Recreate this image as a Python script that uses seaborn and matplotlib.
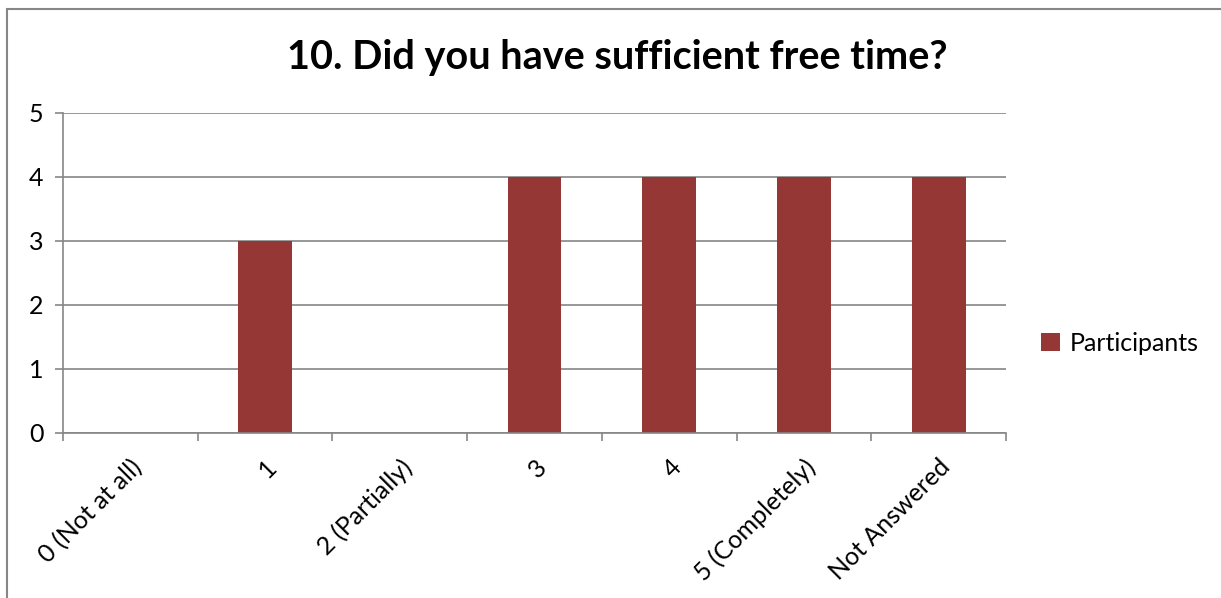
import pandas as pd
import matplotlib.pyplot as plt
import seaborn as sns
from matplotlib.patches import Rectangle

categories = ["0 (Not at all)", "1", "2 (Partially)", "3", "4", "5 (Completely)", "Not Answered"]
participants = [0, 3, 0, 4, 4, 4, 4]
y_ticks = [0, 1, 2, 3, 4, 5]

bar_color = "#953735"
grid_color = "#868686"

df = pd.DataFrame({"answer": categories, "count": participants})

sns.set_style("white")
plt.rcParams["font.family"] = ["Lato", "DejaVu Sans"]
plt.rcParams["text.color"] = "black"
plt.rcParams["xtick.color"] = "black"
plt.rcParams["ytick.color"] = "black"

fig = plt.figure(figsize=(12.21, 5.98), dpi=100)
ax = fig.add_axes([63 / 1221, 1 - 433 / 598, (1006 - 63) / 1221, (433 - 113) / 598])

sns.barplot(data=df, x="answer", y="count", color=bar_color, width=0.4,
            saturation=1, linewidth=0, label="Participants", ax=ax)

ax.set_ylim(0, 5)
ax.set_xlim(-0.5, len(categories) - 0.5)
ax.set_yticks(y_ticks)
ax.set_yticklabels([str(t) for t in y_ticks], fontsize=18)
ax.yaxis.grid(True, color=grid_color, linewidth=1.2)
ax.set_axisbelow(True)
ax.set_xlabel("")
ax.set_ylabel("")

# category boundary ticks like Excel
ax.set_xticks([i - 0.5 for i in range(len(categories) + 1)], minor=False)
ax.set_xticklabels([])
ax.set_xticks(range(len(categories)), minor=True)
ax.set_xticklabels(categories, minor=True, rotation=45, ha="right",
                   rotation_mode="anchor", fontsize=18)
ax.tick_params(axis="x", which="major", bottom=True, length=6, width=1.2,
               color=grid_color, direction="out")
ax.tick_params(axis="x", which="minor", bottom=True, length=0, pad=16)
ax.tick_params(axis="y", left=True, length=6, width=1.2, color=grid_color,
               direction="out", pad=8)

for side in ["top", "right"]:
    ax.spines[side].set_visible(False)
for side in ["left", "bottom"]:
    ax.spines[side].set_color(grid_color)
    ax.spines[side].set_linewidth(1.2)

fig.text(617 / 1221, 1 - 57 / 598, "10. Did you have sufficient free time?",
         ha="center", va="center", fontsize=28.5, fontweight="bold")

ax.legend(loc="center left", bbox_to_anchor=(1.0135, 0.28), frameon=False,
          fontsize=18, handlelength=0.75, handleheight=0.75, handletextpad=0.4)

fig.patches.append(Rectangle((7 / 1221, -0.01), 1.1, 1.01 - 9 / 598,
                             transform=fig.transFigure, fill=False,
                             edgecolor=grid_color, linewidth=1.5))

fig.savefig("out.png", dpi=100)
